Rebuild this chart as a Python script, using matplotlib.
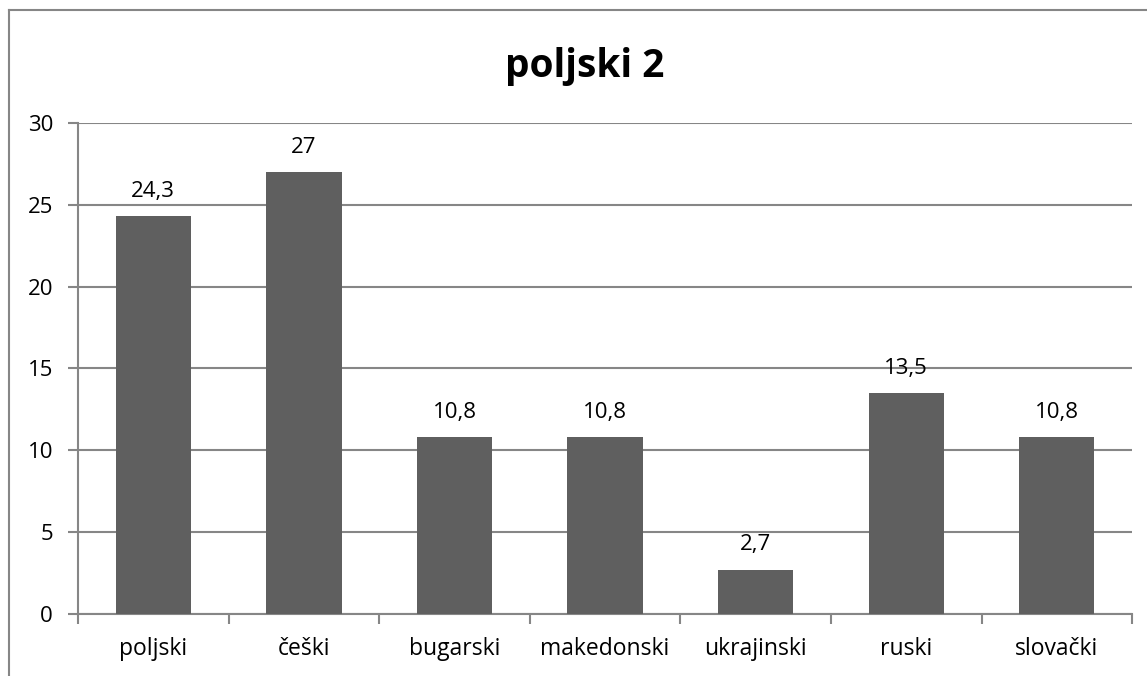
import matplotlib.pyplot as plt
import matplotlib.lines as mlines

# data
categories = ['poljski', 'češki', 'bugarski', 'makedonski', 'ukrajinski', 'ruski', 'slovački']
values = [24.3, 27, 10.8, 10.8, 2.7, 13.5, 10.8]
labels = ['24,3', '27', '10,8', '10,8', '2,7', '13,5', '10,8']

plt.rcParams['font.family'] = ['Open Sans', 'DejaVu Sans']
grey = '#868686'

fig = plt.figure(figsize=(11.47, 6.76), dpi=100)
ax = fig.add_axes([0.068, 0.092, 0.919, 0.726])

x = range(len(categories))
bars = ax.bar(x, values, width=0.5, color='#5f5f5f', zorder=3)
for b, lab in zip(bars, labels):
    ax.annotate(lab, (b.get_x() + b.get_width() / 2, b.get_height()),
                xytext=(0, 14), textcoords='offset points',
                ha='center', va='baseline', fontsize=16)

ax.set_xlim(-0.5, len(categories) - 0.5)
ax.set_ylim(0, 30)
ax.set_yticks(range(0, 31, 5))
ax.yaxis.grid(True, color=grey, linewidth=1.5, zorder=0)

# category labels centered, tick marks on boundaries
ax.set_xticks(list(x))
ax.set_xticklabels(categories, fontsize=16.5)
ax.set_xticks([i - 0.5 for i in range(len(categories) + 1)], minor=True)
ax.tick_params(axis='x', which='major', length=0, pad=17)
ax.tick_params(axis='x', which='minor', length=7, width=1.5, color=grey)
ax.tick_params(axis='y', length=7, width=1.5, color=grey, labelsize=16, pad=11)

for s in ['top', 'right']:
    ax.spines[s].set_visible(False)
for s in ['left', 'bottom']:
    ax.spines[s].set_color(grey)
    ax.spines[s].set_linewidth(1.5)

# title is centred on the whole chart box, not the plot area
fig.text(0.51, 0.886, 'poljski 2', fontsize=28, fontweight='bold',
         ha='center', va='baseline')

# outer chart border (left and top only visible)
fig.add_artist(mlines.Line2D([0.008, 0.008], [0, 0.985], color=grey, linewidth=1.5))
fig.add_artist(mlines.Line2D([0.008, 1.0], [0.985, 0.985], color=grey, linewidth=1.5))

fig.savefig('out.png', dpi=100)
